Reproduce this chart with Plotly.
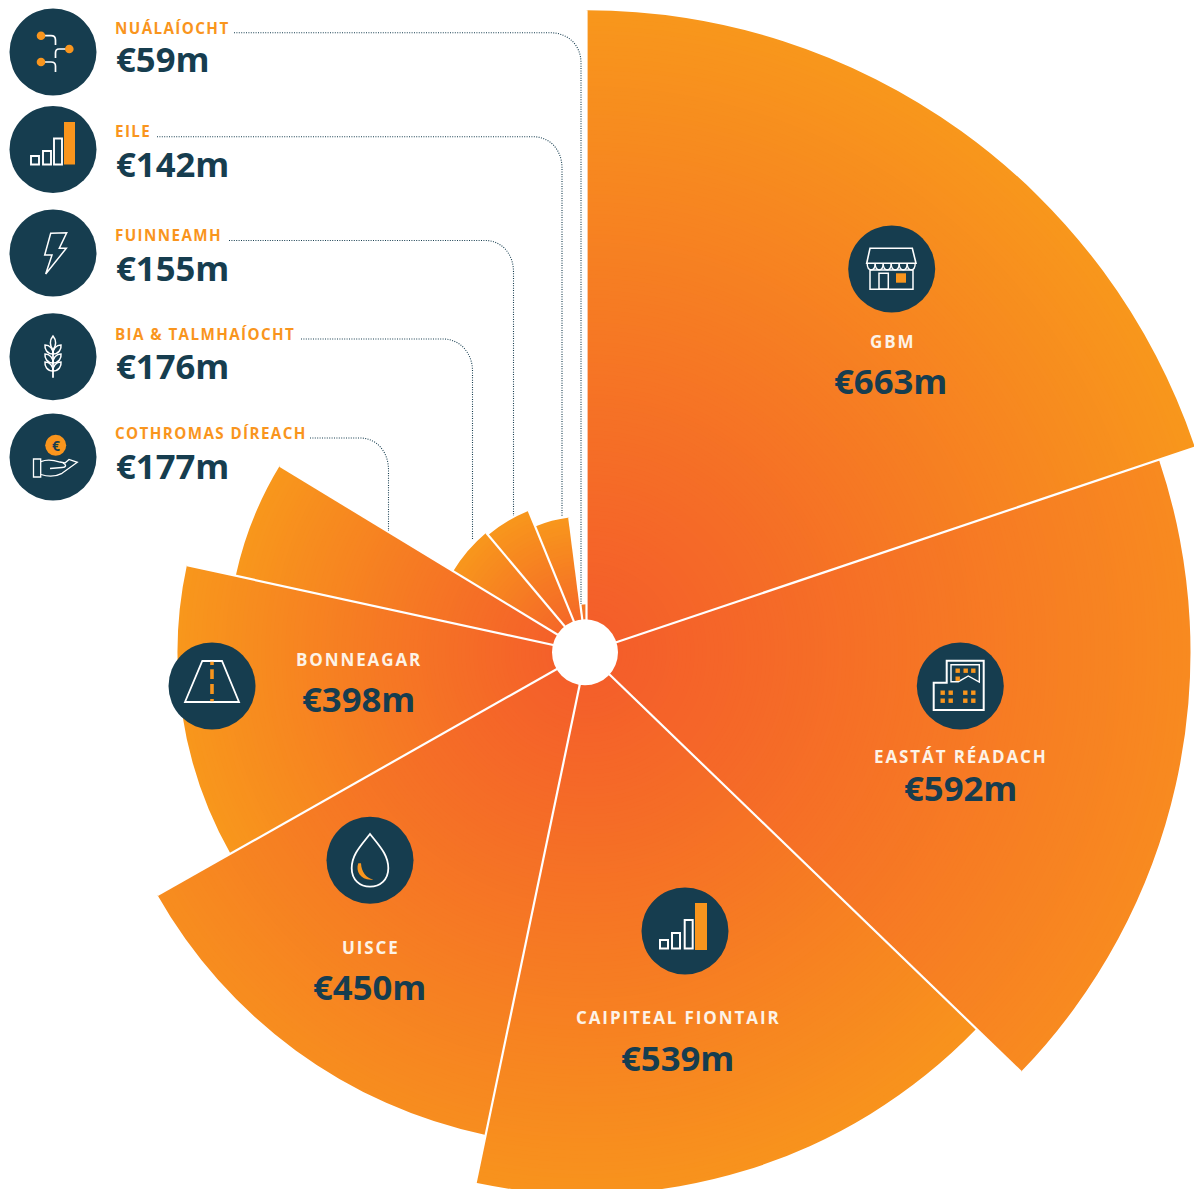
import re
import plotly.graph_objects as go

# The polar circle must reach past the window's left and bottom edges, so the
# figure is larger than the window and shifted left by OX pixels.
W, H = 1194, 1189
OX = 64
FW, FH = 1302, 1303

# ---- data ----
categories = ["GBM", "EASTÁT RÉADACH", "CAIPITEAL FIONTAIR", "UISCE", "BONNEAGAR",
              "COTHROMAS DÍREACH", "BIA & TALMHAÍOCHT", "FUINNEAMH", "EILE", "NUÁLAÍOCHT"]
sector_span_deg = [71.4, 62.6, 57.8, 48.7, 41.8, 19.0, 18.7, 17.8, 14.9, 7.3]   # angle of each sector
sector_radius = [642, 604, 542, 493, 409, 359, 156, 153, 136, 48]               # length of each sector
value_labels = ["€663m", "€592m", "€539m", "€450m", "€398m", "€177m", "€176m", "€155m", "€142m", "€59m"]
outer_colors = ["#F8971C", "#F88A20", "#F8931D", "#F78D1F", "#F8971C",
                "#F8971C", "#F8971C", "#F8971C", "#F8971C", "#F57A25"]
inner_color = "#F45C2B"

DARK = "#163D4F"
ORANGE = "#F9951D"
CX, CY, HOLE = 586.5, 652.3, 33
BAND = 4

def hex_rgb(c):
    return tuple(int(c[i:i + 2], 16) for i in (1, 3, 5))

def mix(c0, c1, t):
    a, b = hex_rgb(c0), hex_rgb(c1)
    return "rgb(%d,%d,%d)" % tuple(round(a[i] + (b[i] - a[i]) * t) for i in range(3))

# ---- sectors: nested wedges painted outermost first give the gradient without seams ----
widths = sector_span_deg
starts = [sum(widths[:i]) for i in range(len(widths))]

fig = go.Figure()
for st, wd, rad, oc in zip(starts, widths, sector_radius, outer_colors):
    b_r, b_color = [], []
    r1 = rad
    while r1 > 20:
        t = min(1.0, ((r1 - BAND / 2) / rad) ** 1.05)
        b_r.append(r1 - 20)
        b_color.append(mix(inner_color, oc, t))
        r1 -= BAND
    fig.add_trace(go.Barpolar(r=b_r, base=[20] * len(b_r), theta=[st + wd / 2] * len(b_r),
                              width=[wd] * len(b_r),
                              marker=dict(color=b_color, line=dict(width=0)),
                              hoverinfo="skip", showlegend=False))

sep_r, sep_t = [], []
n = len(widths)
for i in range(n):
    sep_r += [0, max(sector_radius[i], sector_radius[i - 1]), None]
    sep_t += [starts[i], starts[i], None]
fig.add_trace(go.Scatterpolar(r=sep_r, theta=sep_t, mode="lines",
                              line=dict(color="white", width=2.2),
                              hoverinfo="skip", showlegend=False))

# ---- helpers in picture pixels ----
def fx(x): return (x + OX) / FW
def fy(y): return 1 - y / FH

def P(path):
    toks = re.findall(r"[MLCQZ]|-?\d+\.?\d*", path)
    out, xy = [], []
    for tk in toks:
        if tk in "MLCQZ":
            out.append(tk)
        else:
            xy.append(float(tk))
            if len(xy) == 2:
                out.append("%.5f,%.5f" % (fx(xy[0]), fy(xy[1])))
                xy = []
    return " ".join(out)

shapes = []
def path(d, line=None, fill=None, w=1.9, dash=None):
    s = dict(type="path", xref="paper", yref="paper", path=P(d), layer="above",
             line=dict(color=line or "rgba(0,0,0,0)", width=w if line else 0))
    if dash:
        s["line"]["dash"] = dash
    s["fillcolor"] = fill or "rgba(0,0,0,0)"
    shapes.append(s)

def circle(x, y, r, fill):
    shapes.append(dict(type="circle", xref="paper", yref="paper", layer="above",
                       x0=fx(x - r), x1=fx(x + r), y0=fy(y + r), y1=fy(y - r),
                       fillcolor=fill, line=dict(width=0)))

def rect(x0, y0, x1, y1, fill=None, line=None, w=1.9):
    path(f"M{x0} {y0} L{x1} {y0} L{x1} {y1} L{x0} {y1} Z", line=line, fill=fill, w=w)

WL = "white"

# hole
circle(585, 652.3, HOLE, "white")

# leader lines
leaders = [
    "M234 32.7 L550 32.7 C568 32.7 581 45 581 63 L581 604",
    "M157 136.7 L533 136.7 C550 136.7 562 150 562 168 L562 516",
    "M229 240.5 L485 240.5 C502 240.5 513.5 254 513.5 272 L513.5 516",
    "M301 339 L443 339 C460 339 472.5 353 472.5 371 L472.5 540",
    "M310 438 L360 438 C377 438 388.5 452 388.5 470 L388.5 531",
]
for d in leaders:
    path(d, line=DARK, w=1.1, dash="1px,1.4px")

# icon discs
R = 43.5
discs = [(53, 52), (53, 149.5), (53, 253), (53, 356.7), (53, 457),
         (891.7, 269), (960.3, 686), (212, 686), (370, 860.3), (685, 931)]
for x, y in discs:
    circle(x, y, R, DARK)

# network icon
path("M41 35.7 L51 35.7 C54 35.7 55.5 37 55.5 40 L55.5 45", line=WL, w=1.7)
path("M69 49 L59 49 C56.5 49 55.5 50 55.5 53 L55.5 58", line=WL, w=1.7)
path("M41 62 L51 62 C54 62 55.5 63 55.5 66 L55.5 72", line=WL, w=1.7)
circle(41, 35.7, 4.3, ORANGE)
circle(69.3, 49, 4.3, ORANGE)
circle(41, 62, 4.3, ORANGE)

# bar-chart icons
rect(31, 156, 39, 164.5, line=WL)
rect(43, 151, 51, 164.5, line=WL)
rect(54, 138.5, 62, 164.5, line=WL)
rect(64, 122, 75, 164.5, fill=ORANGE)
rect(660, 940, 668, 948.5, line=WL, w=2)
rect(672, 933, 680, 948.5, line=WL, w=2)
rect(684.7, 920, 692.7, 948.5, line=WL, w=2)
rect(695, 903, 707, 950, fill=ORANGE)

# lightning icon
path("M50.7 233.3 L66.7 232.7 L59.3 248.3 L66.3 248.3 L45.7 274 L52 255 L44.7 255 Z", line=WL, w=1.5)

# wheat icon
path("M53 349 L53 377.7", line=WL, w=1.8)
path("M53 336 C49.5 340 49.5 346 53 350 C56.5 346 56.5 340 53 336 Z", line=WL, w=1.5)
for y in (345, 354, 362):
    path(f"M53 {y + 9} C47 {y + 9} 44.5 {y + 4} 45 {y} C50 {y} 53 {y + 4} 53 {y + 9} Z", line=WL, w=1.5)
    path(f"M53 {y + 9} C59 {y + 9} 61.5 {y + 4} 61 {y} C56 {y} 53 {y + 4} 53 {y + 9} Z", line=WL, w=1.5)

# hand and coin icon
circle(55.7, 445.3, 10.5, ORANGE)
rect(33.5, 459, 40.7, 477, line=WL, w=1.3)
path("M41 461.7 C47 459 53 460 60 462 L65 463 L69 459.5 L77.3 462.3 L62 473.3 "
     "C56 476.5 50 477.5 41 474.5", line=WL, w=1.3)
path("M63 463 C67 465 66 467.5 62 467.5 L50 468.5", line=WL, w=1.3)

# shop icon
path("M870 248.3 L912.3 248.3 L916 263.3 L866.7 263.3 Z", line=WL, w=1.6)
sx = 867.2
for i in range(6):
    x0, x1 = sx + i * 8, sx + (i + 1) * 8
    path(f"M{x0} 263.3 C{x0} 272 {x1} 272 {x1} 263.3", line=WL, w=1.4)
rect(870, 270, 913, 289.3, line=WL, w=1.5)
rect(879, 273.3, 888.3, 289.3, line=WL, w=1.5)
rect(896, 273.3, 906, 282.7, fill=ORANGE)

# building icon
path("M946.7 660.7 L983.7 660.7 L983.7 710 L933.7 710 L933.7 682.7 L946.7 682.7 Z", line=WL, w=2)
path("M951 664.7 L979.3 664.7 L979.3 682 L968.3 676 L958.3 681.7 L951 681.7 Z", line=WL, w=1.4)
for zx, zy in [(203, 122), (227, 122), (250, 122), (203, 146),
               (158, 188), (182, 188), (226, 188), (250, 188),
               (158, 212), (182, 212), (226, 212), (250, 212)]:
    ax, ay = 890 + zx / 3, 630 + zy / 3
    rect(round(ax - 2.2, 1), round(ay - 2.2, 1), round(ax + 2.2, 1), round(ay + 2.2, 1), fill=ORANGE)

# road icon
path("M202.3 661 L222 661 L239 702 L185 702 Z", line=WL, w=1.8)
for y0, y1 in [(661.7, 665), (669.3, 679), (684, 694), (699, 701.3)]:
    rect(210.2, y0, 213.8, y1, fill=ORANGE)

# drop icon
path("M370 834 C360 846.7 351.7 855 351.7 868.3 C351.7 880 360 886.7 370 886.7 "
     "C380 886.7 388.3 880 388.3 868.3 C388.3 855 380 846.7 370 834 Z", line=WL, w=1.8)
path("M358.3 863.3 C355 872 362 881.5 373.3 879.5 C366 878 361.5 872 361 863.3 Z", fill=ORANGE)

# ---- text ----
ann = []
def text(x, y, s, size, color, anchor="center", spacing=None):
    t = f"<b>{s}</b>"
    if spacing:
        t = f'<span style="letter-spacing:{spacing}px">{t}</span>'
    ann.append(dict(xref="paper", yref="paper", x=fx(x), y=fy(y), text=t, showarrow=False,
                    xanchor=anchor, yanchor="middle", align=anchor,
                    font=dict(family="Open Sans", size=size, color=color)))

left_rows = {"NUÁLAÍOCHT": (28, 59), "EILE": (131, 163), "FUINNEAMH": (235, 267),
             "BIA & TALMHAÍOCHT": (334, 366), "COTHROMAS DÍREACH": (433, 465)}
inside_rows = {"GBM": (892, 341.5, 380), "EASTÁT RÉADACH": (961, 756, 787),
               "CAIPITEAL FIONTAIR": (678, 1018, 1057), "UISCE": (370.5, 947, 986),
               "BONNEAGAR": (359, 659, 698)}
for cat, val in zip(categories, value_labels):
    if cat in left_rows:
        y0, y1 = left_rows[cat]
        text(113.3, y0, cat, 15.2, ORANGE, "left", 1.4)
        text(113.5, y1, val, 34.7, DARK, "left")
    else:
        x, y0, y1 = inside_rows[cat]
        text(x, y0, cat, 17, "#FDF3E7", "center", 1.9)
        text(x - 1, y1, val, 34.7, DARK, "center")
text(55.7, 445, "€", 14, DARK)

PR = 650
fig.update_layout(
    width=FW, height=FH, margin=dict(l=0, r=0, t=0, b=0),
    paper_bgcolor="white", showlegend=False,
    polar=dict(
        domain=dict(x=[fx(CX - PR), fx(CX + PR)], y=[fy(CY + PR), fy(CY - PR)]),
        bgcolor="rgba(0,0,0,0)",
        barmode="overlay",
        radialaxis=dict(visible=False, range=[0, PR]),
        angularaxis=dict(visible=False, direction="clockwise", rotation=90),
    ),
    shapes=shapes, annotations=ann,
)
post = f"""
document.documentElement.style.overflow='hidden';
document.body.style.margin='0';
document.body.style.overflow='hidden';
document.querySelector('.plotly-graph-div').style.marginLeft='-{OX}px';
"""
fig.write_html("out.html", config=dict(displayModeBar=False), post_script=post)
